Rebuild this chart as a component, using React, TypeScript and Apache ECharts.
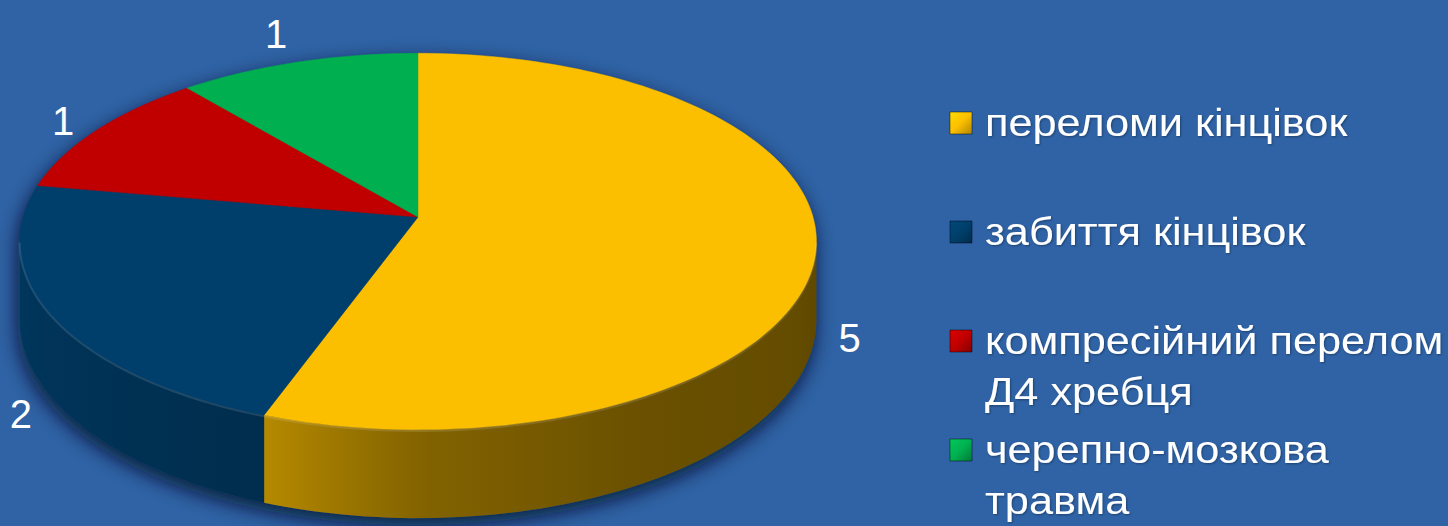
import React, { useEffect, useRef } from "react";
import * as echarts from "echarts";

const categories = [
  "переломи кінцівок",
  "забиття кінцівок",
  "компресійний перелом Д4 хребця",
  "черепно-мозкова травма",
];
const legendLines = [
  ["переломи кінцівок"],
  ["забиття кінцівок"],
  ["компресійний перелом", "Д4 хребця"],
  ["черепно-мозкова", "травма"],
];
const values = [5, 2, 1, 1];
const colors = ["#fcbf00", "#003f6b", "#c00000", "#00b050"];

// 3D projection parameters
const CX = 418, CY = 217, RX = 395, RY = 185, PERSP = 0.13, DEPTH = 77;
const SIL = (Math.acos(-PERSP) * 180) / Math.PI;
const WALL_FROM = SIL, WALL_TO = 360 - SIL;
const LABEL_GAP = 35;

function proj(r: number, deg: number, h: number): number[] {
  const t = (deg * Math.PI) / 180;
  const u = r * Math.sin(t), v = -r * Math.cos(t);
  const f = 1 / (1 - PERSP * v);
  return [CX + RX * u * f, CY + RY * v * f + DEPTH * h * f];
}
function arc(a: number, b: number, h: number): number[][] {
  const n = Math.max(2, Math.ceil(Math.abs(b - a) / 1.5));
  const pts: number[][] = [];
  for (let i = 0; i <= n; i++) pts.push(proj(1, a + ((b - a) * i) / n, h));
  return pts;
}
const shadeStops = [
  [97, 0.38], [150, 0.42], [180, 0.52], [200, 0.72], [230, 0.8], [263, 0.88],
];
function shade(deg: number) {
  if (deg <= shadeStops[0][0]) return shadeStops[0][1];
  for (let i = 1; i < shadeStops.length; i++) {
    if (deg <= shadeStops[i][0]) {
      const [a, sa] = shadeStops[i - 1], [b, sb] = shadeStops[i];
      return sa + ((sb - sa) * (deg - a)) / (b - a);
    }
  }
  return shadeStops[shadeStops.length - 1][1];
}
function scaleColor(hex: string, k: number) {
  const n = parseInt(hex.slice(1), 16);
  const c = (x: number) => Math.min(255, Math.round(x * k));
  return `rgb(${c((n >> 16) & 255)},${c((n >> 8) & 255)},${c(n & 255)})`;
}

export default function App() {
  const ref = useRef<HTMLDivElement>(null);
  useEffect(() => {
    const chart = echarts.init(ref.current!, undefined, { renderer: "svg" });
    const total = values.reduce((s, v) => s + v, 0);
    const starts: number[] = [];
    let acc = 0;
    values.forEach((v) => { starts.push((acc / total) * 360); acc += v; });

    const renderSlice = (params: any, api: any) => {
      const i = params.dataIndex;
      const val = api.value(0);
      const a = starts[i], b = a + (val / total) * 360;
      const children: any[] = [];
      // outer wall
      const wa = Math.max(a, WALL_FROM), wb = Math.min(b, WALL_TO);
      if (wb > wa) {
        const top = arc(wa, wb, 0);
        const bot = arc(wa, wb, 1).reverse();
        const pts = top.concat(bot);
        const xs = pts.map((p) => p[0]);
        const xmin = Math.min(...xs), xmax = Math.max(...xs);
        const stops: any[] = [];
        const n = 24;
        for (let k = 0; k <= n; k++) {
          const d = wa + ((wb - wa) * k) / n;
          const x = proj(1, d, 0)[0];
          stops.push({ offset: Math.min(1, Math.max(0, (x - xmin) / (xmax - xmin || 1))), color: scaleColor(colors[i], shade(d)) });
        }
        stops.sort((p, q) => p.offset - q.offset);
        children.push({
          type: "polygon",
          shape: { points: pts },
          style: { fill: new echarts.graphic.LinearGradient(0, 0, 1, 0, stops) },
        });
      }
      // top face
      const topPts = [[CX, CY]].concat(arc(a, b, 0));
      children.push({
        type: "polygon",
        shape: { points: topPts },
        style: { fill: colors[i], stroke: colors[i], lineWidth: 0.5 },
      });
      // front rim highlight
      if (wb > wa) {
        children.push({
          type: "polyline",
          shape: { points: arc(wa, wb, 0.015) },
          style: { stroke: "rgba(255,255,255,0.12)", lineWidth: 2, fill: "none" },
        });
      }
      // label
      const mid = (a + b) / 2;
      const front = Math.cos((mid * Math.PI) / 180) < 0;
      const p = proj(1, mid, front ? 1 : 0);
      const dx = p[0] - CX, dy = p[1] - CY, len = Math.hypot(dx, dy) || 1;
      children.push({
        type: "text",
        x: p[0] + (dx / len) * LABEL_GAP,
        y: p[1] + (dy / len) * LABEL_GAP,
        style: {
          text: String(val),
          fill: "#ffffff",
          font: '40px "Liberation Sans", Arial, sans-serif',
          align: "center",
          verticalAlign: "middle",
        },
      });
      return { type: "group", children };
    };

    const renderShadow = () => {
      const pts = arc(WALL_TO, 360 + WALL_FROM, 0).concat(arc(WALL_FROM, WALL_TO, 1));
      return {
        type: "polygon",
        shape: { points: pts },
        style: {
          fill: "#1d4275",
          shadowBlur: 20,
          shadowColor: "rgba(0,10,40,0.85)",
          shadowOffsetY: 7,
          shadowOffsetX: -2,
        },
      };
    };

    const legendGraphics: any[] = [];
    const LEG_X = 950, LEG_TOP = 123, LEG_STEP = 109, LEG_LINE = 51, MARK = 22;
    legendLines.forEach((lines, i) => {
      const y = LEG_TOP + i * LEG_STEP;
      legendGraphics.push({
        type: "rect",
        shape: { x: LEG_X, y: y - MARK / 2, width: MARK, height: MARK },
        style: {
          fill: new echarts.graphic.LinearGradient(0, 0, 1, 1, [
            { offset: 0, color: scaleColor(colors[i], 1.15) },
            { offset: 0.5, color: colors[i] },
            { offset: 1, color: scaleColor(colors[i], 0.7) },
          ]),
          stroke: "rgba(0,0,0,0.45)",
          lineWidth: 1,
        },
      });
      lines.forEach((ln, j) => {
        legendGraphics.push({
          type: "text",
          x: LEG_X + 35,
          y: y + j * LEG_LINE,
          scaleX: 1.11,
          style: {
            text: ln,
            fill: "#ffffff",
            font: '39px "Liberation Sans", Arial, sans-serif',
            verticalAlign: "middle",
            textShadowColor: "rgba(0,0,0,0.35)",
            textShadowBlur: 2,
            textShadowOffsetX: 1,
            textShadowOffsetY: 1,
          },
        });
      });
    });

    chart.setOption({
      animation: false,
      backgroundColor: "#2f63a6",
      graphic: legendGraphics,
      series: [
        {
          type: "custom",
          name: "shadow",
          coordinateSystem: "none",
          silent: true,
          z: 1,
          data: [total],
          renderItem: renderShadow,
        },
        {
          type: "custom",
          name: "pie3d",
          coordinateSystem: "none",
          z: 2,
          data: values.map((v, i) => ({ value: v, name: categories[i] })),
          renderItem: renderSlice,
        },
      ],
    });
    return () => chart.dispose();
  }, []);
  return (
    <div
      ref={ref}
      style={{ position: "fixed", left: 0, top: 0, width: 1448, height: 526 }}
    />
  );
}
